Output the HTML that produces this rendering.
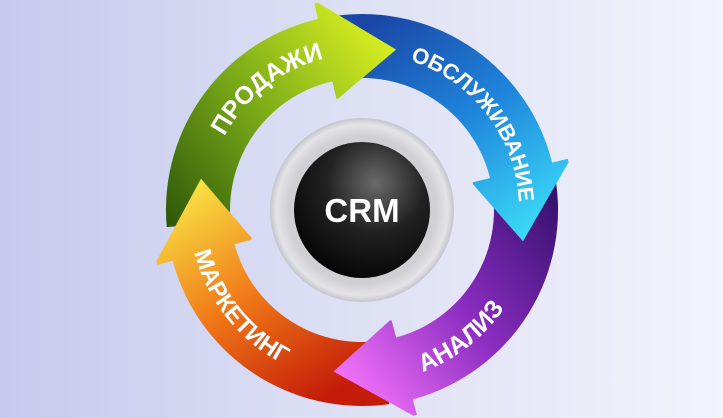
<!DOCTYPE html>
<html><head><meta charset="utf-8"><style>
html,body{margin:0;padding:0;width:723px;height:418px;overflow:hidden}
body{background:linear-gradient(90deg,#c6caed 0%,#dcdff4 45%,#f3f3fa 100%)}
svg{position:absolute;left:0;top:0}
text{font-family:"Liberation Sans","DejaVu Sans",sans-serif;font-weight:bold;fill:#fff}
</style></head><body>
<svg id="s" width="723" height="418" viewBox="0 0 723 418">
<defs>
<linearGradient id="gG" gradientUnits="userSpaceOnUse" x1="163" y1="225" x2="393" y2="50"><stop offset="0" stop-color="#2c560a"/><stop offset="0.5" stop-color="#7aaa18"/><stop offset="1" stop-color="#d8ee22"/></linearGradient>
<linearGradient id="gB" gradientUnits="userSpaceOnUse" x1="380" y1="15" x2="527" y2="240"><stop offset="0" stop-color="#1a46a6"/><stop offset="0.5" stop-color="#1f86dc"/><stop offset="1" stop-color="#3cdcf8"/></linearGradient>
<linearGradient id="gP" gradientUnits="userSpaceOnUse" x1="555" y1="200" x2="337" y2="367"><stop offset="0" stop-color="#381270"/><stop offset="0.5" stop-color="#8a2cc0"/><stop offset="1" stop-color="#f070f8"/></linearGradient>
<linearGradient id="gO" gradientUnits="userSpaceOnUse" x1="330" y1="395" x2="198" y2="180"><stop offset="0" stop-color="#c41c08"/><stop offset="0.5" stop-color="#f07818"/><stop offset="1" stop-color="#f8e444"/></linearGradient>
<radialGradient id="ring" cx="0.5" cy="0.5" r="0.5"><stop offset="0.8" stop-color="#cfcfd4"/><stop offset="0.93" stop-color="#e4e4e8"/><stop offset="1" stop-color="#c4c4cc"/></radialGradient>
<radialGradient id="blk" cx="0.6" cy="0.3" r="0.8"><stop offset="0" stop-color="#6a6a6a"/><stop offset="0.45" stop-color="#222"/><stop offset="1" stop-color="#000"/></radialGradient>
</defs>
<g id="bodies"></g><g id="heads"></g><g id="txt"></g>
<circle cx="362" cy="210" r="92" fill="url(#ring)"/>
<circle cx="362" cy="210" r="68" fill="url(#blk)"/>
<text x="362" y="222" text-anchor="middle" font-size="33">CRM</text>
</svg>
<script>
var cx=362,cy=210,R1=132,R2=196,H1=114,H2=212,RT=164;
function p(r,a){a=a*Math.PI/180;return (cx+r*Math.cos(a)).toFixed(1)+","+(cy+r*Math.sin(a)).toFixed(1);}
function arc(r,a,b){var l=Math.abs(b-a)>180?1:0,sw=b>a?1:0;return " A"+r+","+r+" 0 "+l+" "+sw+" "+p(r,b);}
var A=[["gG",175,258,282],["gB",262,347,371],["gP",352,436,460],["gO",82,166,191]];
var bo="",he="";
A.forEach(function(x){
 var f=x[0],s=x[1],hb=x[2],t=x[3];
 bo+='<path fill="url(#'+f+')" d="M'+p(R2,s)+arc(R2,s,hb+1)+" L"+p(R1,hb+1)+arc(R1,hb+1,s)+'Z"/>';
 he+='<path fill="url(#'+f+')" d="M'+p(H2,hb)+" L"+p(RT,t)+" L"+p(H1,hb)+" L"+p(H1,hb-1)+" L"+p(H2,hb-1)+'Z"/>';
});
document.getElementById("bodies").innerHTML=bo;
document.getElementById("heads").innerHTML=he;
var T=[["ПРОДАЖИ",200,264,156,25],["ОБСЛУЖИВАНИЕ",-80,5,157,22],["АНАЛИЗ",78,26,173,25],["МАРКЕТИНГ",175,108,173,24]];
var tx="",d="";
T.forEach(function(x,i){
 d+='<path id="tp'+i+'" d="M'+p(x[3],x[1])+arc(x[3],x[1],x[2])+'" fill="none"/>';
 tx+='<text font-size="'+x[4]+'"><textPath href="#tp'+i+'" startOffset="50%" text-anchor="middle">'+x[0]+'</textPath></text>';
});
document.getElementById("txt").innerHTML=d+tx;
</script>
</body></html>
